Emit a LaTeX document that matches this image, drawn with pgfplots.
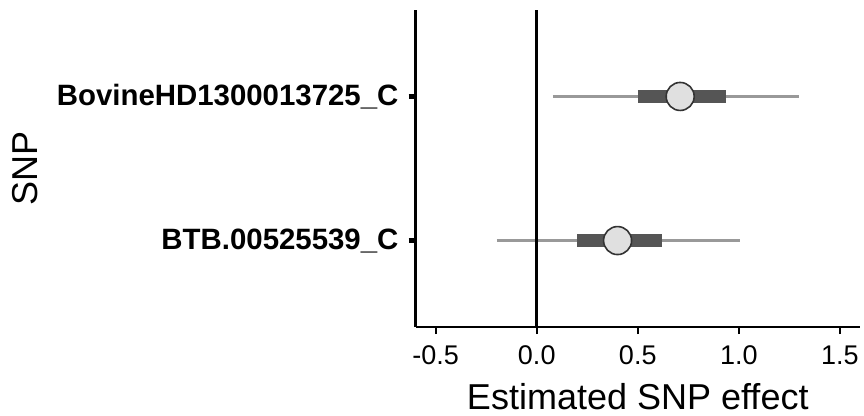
\documentclass[border=0pt]{standalone}
\usepackage{pgfplots}
\pgfplotsset{compat=1.18}
\usepackage{fontspec}
\setmainfont{Liberation Sans}
\definecolor{thinci}{HTML}{999999}
\definecolor{thickci}{HTML}{555555}
\definecolor{ptfill}{HTML}{E0E0E0}
\definecolor{ptdraw}{HTML}{333333}
\begin{document}
\begin{tikzpicture}
\begin{axis}[
  scale only axis,
  width=222.2pt, height=158.5pt,
  xmin=-0.6, xmax=1.6,
  ymin=0.4, ymax=2.6,
  axis lines=left,
  axis line style={-, line width=1.35pt, black},
  xtick={-0.5,0,0.5,1,1.5},
  xticklabels={-0.5,0.0,0.5,1.0,1.5},
  ytick={1,2},
  yticklabels={BTB.00525539\_C, BovineHD1300013725\_C},
  tick align=outside,
  major tick length=3.5pt,
  xtick style={line width=1pt, black},
  ytick style={line width=2.2pt, black},
  xticklabel style={font=\fontsize{13.5}{16}\selectfont, text=black, yshift=-2.5pt},
  yticklabel style={font=\fontsize{14.7}{17}\selectfont\bfseries, text=black, xshift=-1.5pt},
  /pgf/number format/assume math mode=true,
  xlabel={Estimated SNP effect},
  ylabel={SNP},
  label style={font=\fontsize{18}{21}\selectfont},
  xlabel style={yshift=-2pt},
  ylabel style={yshift=2.5pt},
  clip=false,
]
% thin interval
\addplot[thinci, line width=1.5pt] coordinates {(0.08,2) (1.30,2)};
\addplot[thinci, line width=1.5pt] coordinates {(-0.198,1) (1.007,1)};
% zero line
\addplot[black, line width=1.4pt] coordinates {(0,0.4) (0,2.6)};
% thick interval
\addplot[thickci, line width=6.5pt] coordinates {(0.50,2) (0.936,2)};
\addplot[thickci, line width=6.5pt] coordinates {(0.20,1) (0.619,1)};
% point estimate
\addplot[only marks, mark=*, mark size=7pt, mark options={fill=ptfill, draw=ptdraw, line width=0.8pt}] coordinates {(0.710,2) (0.40,1)};
\coordinate (bl) at (rel axis cs:0,0);
\coordinate (tr) at (rel axis cs:1,1);
\end{axis}
\pgfresetboundingbox
\useasboundingbox ([shift={(-207.75pt,-44pt)}]bl) rectangle ([shift={(2pt,5pt)}]tr);
\end{tikzpicture}
\end{document}
